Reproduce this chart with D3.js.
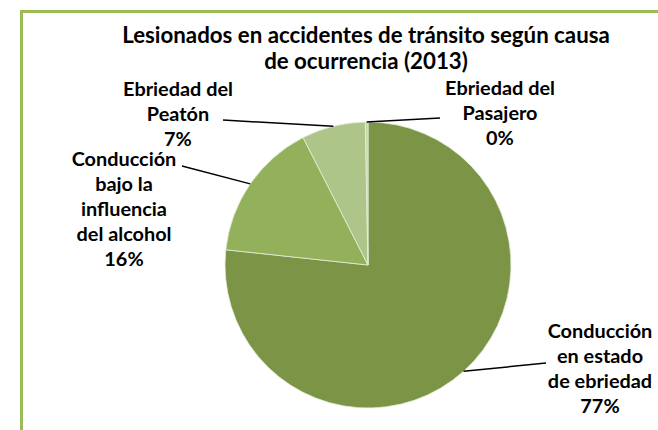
<!DOCTYPE html>
<html>
<head>
<meta charset="utf-8">
<script src="https://cdn.jsdelivr.net/npm/d3@7"></script>
<style>
  body { margin: 0; background: #fff; }
  text { font-family: Lato, "Open Sans", sans-serif; font-weight: bold; fill: #000; }
</style>
</head>
<body>
<svg id="chart"></svg>
<script>
const w = 658, h = 430;

// data
const titleLines = ['Lesionados en accidentes de tránsito según causa', 'de ocurrencia (2013)'];
const categories = ['Conducción en estado de ebriedad', 'Conducción bajo la influencia del alcohol', 'Ebriedad del Peatón', 'Ebriedad del Pasajero'];
const labelLines = [
  ['Conducción', 'en estado', 'de ebriedad'],
  ['Conducción', 'bajo la', 'influencia', 'del alcohol'],
  ['Ebriedad del', 'Peatón'],
  ['Ebriedad del', 'Pasajero']
];
const values = [76.7, 15.8, 7.2, 0.3];
const colors = ['#7b9446', '#93b05a', '#adc589', '#c6d7a4'];

// label placement (center x, top line y) and where the leader line meets the label
const labelPos = [
  {x: 600, y: 338, lx: 546, ly: 363},
  {x: 124, y: 166, lx: 182, ly: 166},
  {x: 178, y: 96, lx: 223, ly: 120},
  {x: 500, y: 95, lx: 440, ly: 118}
];

const cx = 368, cy = 265, r = 143;
const lineH = 25;

var svg = d3.select('#chart')
  .attr('width', w)
  .attr('height', h);

// green frame (runs off the right and bottom)
svg.append('rect')
  .attr('x', 21.5)
  .attr('y', 11.5)
  .attr('width', 700)
  .attr('height', 500)
  .attr('fill', 'none')
  .attr('stroke', '#9bbb59')
  .attr('stroke-width', 3);

// fit a font size so a text gets a given width
function fitSize(str, target) {
  var t = svg.append('text').style('font-size', '20px').text(str);
  var len = t.node().getComputedTextLength();
  t.remove();
  return 20 * target / len;
}

var titleSize = fitSize(titleLines[0], 488);
var labelSize = fitSize('Ebriedad del', 110);

svg.selectAll('text.title')
  .data(titleLines)
  .enter()
  .append('text')
  .attr('class', 'title')
  .attr('x', 366)
  .attr('y', function(d, i){ return 43 + i * 26; })
  .attr('text-anchor', 'middle')
  .style('font-size', titleSize + 'px')
  .text(function(d){ return d; });

var pie = d3.pie().sort(null).value(function(d){ return d; });
var arcs = pie(values);
var arc = d3.arc().innerRadius(0).outerRadius(r);

var g = svg.append('g').attr('transform', 'translate(' + cx + ',' + cy + ')');

g.selectAll('path')
  .data(arcs)
  .enter()
  .append('path')
  .attr('d', arc)
  .attr('fill', function(d, i){ return colors[i]; })
  .attr('stroke', '#e6eddb')
  .attr('stroke-width', 0.8);

// leader lines
svg.selectAll('line.leader')
  .data(arcs)
  .enter()
  .append('line')
  .attr('class', 'leader')
  .attr('x1', function(d){ var a = (d.startAngle + d.endAngle) / 2; return cx + r * Math.sin(a); })
  .attr('y1', function(d){ var a = (d.startAngle + d.endAngle) / 2; return cy - r * Math.cos(a); })
  .attr('x2', function(d, i){ return labelPos[i].lx; })
  .attr('y2', function(d, i){ return labelPos[i].ly; })
  .attr('stroke', '#000')
  .attr('stroke-width', 1.5);

// labels with percentages
var labels = svg.selectAll('text.label')
  .data(arcs)
  .enter()
  .append('text')
  .attr('class', 'label')
  .attr('text-anchor', 'middle')
  .style('font-size', labelSize + 'px');

labels.each(function(d, i) {
  var lines = labelLines[i].concat([Math.round(values[i]) + '%']);
  var t = d3.select(this);
  lines.forEach(function(s, j) {
    t.append('tspan')
      .attr('x', labelPos[i].x)
      .attr('y', labelPos[i].y + j * lineH)
      .text(s);
  });
});
</script>
</body>
</html>
